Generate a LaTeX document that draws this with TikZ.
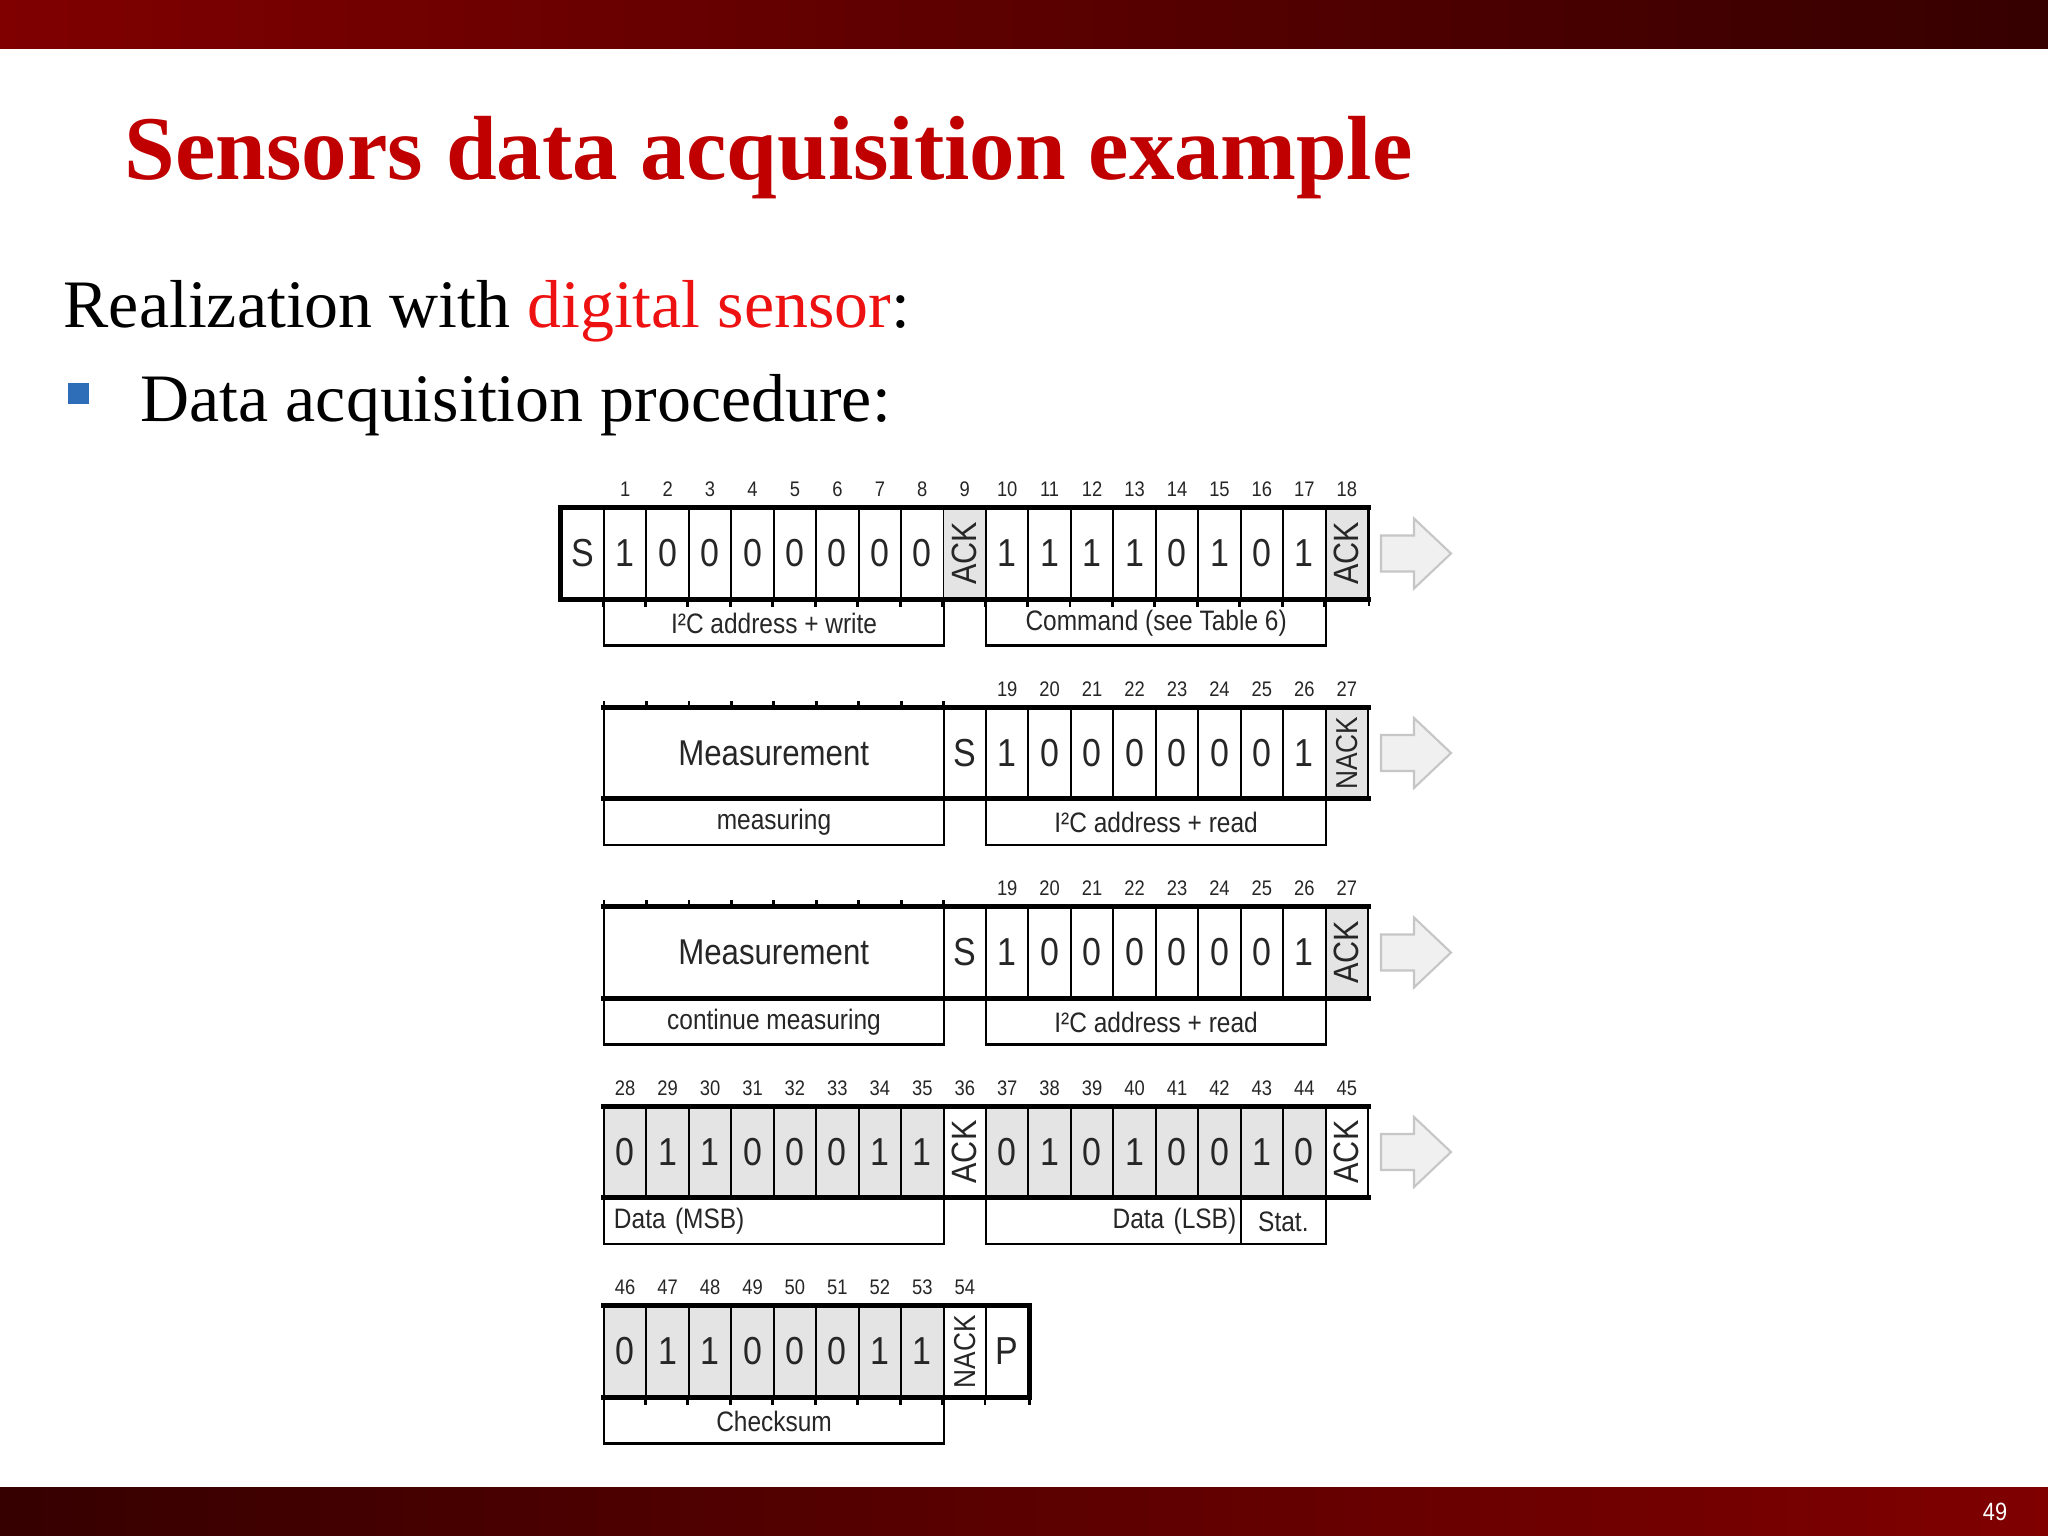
\documentclass[tikz,border=0pt]{standalone}
\usepackage{fontspec}
\setmainfont{Liberation Serif}
\newfontfamily\diagfont[FakeStretch=0.87]{Liberation Sans}
\usetikzlibrary{positioning,calc}

\definecolor{barred}{HTML}{800000}
\definecolor{bardark}{HTML}{360000}
\definecolor{titlered}{HTML}{C00000}
\definecolor{keyred}{HTML}{EE1111}
\definecolor{bulletblue}{HTML}{2E6DB8}
\definecolor{cellgray}{HTML}{E4E4E4}

\newcommand{\titlefont}{\fontsize{25.9}{30}\selectfont\bfseries}
\newcommand{\bodyfont}{\fontsize{19.3}{23}\selectfont}
\newcommand{\bitfont}{\diagfont\fontsize{11.1}{13}\selectfont}
\newcommand{\ackbit}{\rotatebox{90}{\fontsize{10}{12}\selectfont ACK}}
\newcommand{\nackbit}{\rotatebox{90}{\fontsize{8.6}{10}\selectfont NACK}}

\tikzset{
  cell/.style={draw, line width=0.55pt, minimum width=4.245mm, minimum height=8.95mm,
               inner sep=0pt, font=\bitfont, text=black!85},
  gcell/.style={cell, fill=cellgray},
  wide/.style={cell, minimum width=33.96mm, font=\diagfont\fontsize{10.2}{12}\selectfont},
  bitnum/.style={font=\diagfont\fontsize{6}{7}\selectfont, inner sep=0pt, text=black!85},
  field/.style={draw, line width=0.7pt, minimum height=4.5mm, inner sep=0pt, anchor=north west,
                font=\diagfont\fontsize{8}{9}\selectfont, text=black!85},
  rule/.style={line width=1.3pt, line cap=rect},
  tick/.style={line width=0.8pt},
  flowarrow/.style={draw=gray!45, fill=gray!12, line width=0.6pt},
  pics/nextframe/.style={code={\draw[flowarrow] (0,-18) -- (33,-18) -- (33,-35) -- (70,0)
                          -- (33,35) -- (33,18) -- (0,18) -- cycle;}},
}

\begin{document}
\begin{tikzpicture}[x=0.01cm, y=-0.01cm]
  \useasboundingbox (0,0) rectangle (2048,1536);
  % slide frame
  \shade[left color=barred, right color=bardark] (0,0) rectangle (2048,48);
  \shade[left color=bardark, right color=barred] (0,1487) rectangle (2048,1536);
  \node[font=\diagfont\fontsize{7.1}{8}\selectfont, text=white] (page) at (1995,1512) {49};

  \node[anchor=base west, inner sep=0pt, font=\titlefont, text=titlered] (title) at (124,179)
    {Sensors data acquisition example};
  \node[anchor=base west, inner sep=0pt, font=\bodyfont] (intro) at (63,327)
    {Realization with \textcolor{keyred}{digital sensor}:};
  \node[fill=bulletblue, minimum size=0.21cm, inner sep=0pt] (bullet) at (78.5,393.5) {};
  \node[anchor=base west, inner sep=0pt, font=\bodyfont] (proc) at (140,421)
    {Data acquisition procedure:};

  % frame 1: address + write, command
  \foreach \sty/\bit [count=\i from 0] in {cell/S,cell/1,cell/0,cell/0,cell/0,cell/0,cell/0,cell/0,cell/0,
      gcell/\ackbit,cell/1,cell/1,cell/1,cell/1,cell/0,cell/1,cell/0,cell/1,gcell/\ackbit}
    \node[\sty] (a\i) at ({582.7+42.45*\i},553.5) {\bit};
  \foreach \n in {1,...,18}
    \node[bitnum] (an\n) at ({582.7+42.45*\n},489.5) {\n};
  \draw[rule] (a0.north west) -- (a18.north east);
  \draw[rule] (a0.south west) -- (a18.south east);
  \draw[rule] (a0.north west) -- (a0.south west);
  \foreach \i in {1,...,18}
    \draw[tick] (a\i.south west) -- ++(0,8);
  \draw[tick] (a18.north east) -- ++(0,98);
  \node[field, minimum width=33.96mm] (af1) at (a1.south west) {I²C address + write};
  \node[field, minimum width=33.96mm] (af2) at (a10.south west) {Command (see Table 6)};
  \pic at ($(a18.east)+(12,0)$) {nextframe};

  % frames 2 and 3: measurement, address + read
  \foreach \r/\yc/\endbit/\what in {b/753/\nackbit/measuring, c/952.5/\ackbit/continue measuring} {
    \node[wide] (\r-m) at ({582.7+42.45*4.5},\yc) {Measurement};
    \foreach \sty/\bit [count=\i from 9] in {cell/S,cell/1,cell/0,cell/0,cell/0,cell/0,cell/0,cell/0,
        cell/1,gcell/\endbit}
      \node[\sty] (\r\i) at ({582.7+42.45*\i},\yc) {\bit};
    \foreach \n [count=\i from 10] in {19,...,27}
      \node[bitnum] (\r n\n) at ({582.7+42.45*\i},{\yc-64}) {\n};
    \foreach \k in {0,...,8}
      \draw[tick] ({604+42.45*\k},{\yc-44.5}) -- ++(0,-8);
    \draw[rule] (\r-m.north west) -- (\r18.north east);
    \draw[rule] (\r-m.south west) -- (\r18.south east);
    \node[field, minimum width=33.96mm] (\r-f1) at (\r-m.south west) {\what};
    \node[field, minimum width=33.96mm] (\r-f2) at (\r10.south west) {I²C address + read};
    \pic at ($(\r18.east)+(12,0)$) {nextframe};
  }

  % frame 4: data
  \foreach \sty/\bit [count=\i from 1] in {gcell/0,gcell/1,gcell/1,gcell/0,gcell/0,gcell/0,gcell/1,gcell/1,
      cell/\ackbit,gcell/0,gcell/1,gcell/0,gcell/1,gcell/0,gcell/0,gcell/1,gcell/0,cell/\ackbit}
    \node[\sty] (d\i) at ({582.7+42.45*\i},1152) {\bit};
  \foreach \n [count=\i from 1] in {28,...,45}
    \node[bitnum] (dn\n) at ({582.7+42.45*\i},1088) {\n};
  \draw[rule] (d1.north west) -- (d18.north east);
  \draw[rule] (d1.south west) -- (d18.south east);
  \node[field, minimum width=33.96mm, text width=32mm, align=left] (df1) at (d1.south west) {Data (MSB)};
  \node[field, minimum width=25.47mm, text width=24.5mm, align=right] (df2) at (d10.south west) {Data (LSB)};
  \node[field, minimum width=8.49mm] (df3) at (d16.south west) {Stat.};
  \pic at ($(d18.east)+(12,0)$) {nextframe};

  % frame 5: checksum
  \foreach \sty/\bit [count=\i from 1] in {gcell/0,gcell/1,gcell/1,gcell/0,gcell/0,gcell/0,gcell/1,gcell/1,
      cell/\nackbit,cell/P}
    \node[\sty] (e\i) at ({582.7+42.45*\i},1351.5) {\bit};
  \foreach \n [count=\i from 1] in {46,...,54}
    \node[bitnum] (en\n) at ({582.7+42.45*\i},1287.5) {\n};
  \draw[rule] (e1.north west) -- (e10.north east);
  \draw[rule] (e1.south west) -- (e10.south east);
  \draw[rule] (e10.north east) -- (e10.south east);
  \foreach \i in {2,...,10}
    \draw[tick] (e\i.south west) -- ++(0,8);
  \draw[tick] (e10.south east) -- ++(0,8);
  \node[field, minimum width=33.96mm] (ef1) at (e1.south west) {Checksum};
\end{tikzpicture}
\end{document}
